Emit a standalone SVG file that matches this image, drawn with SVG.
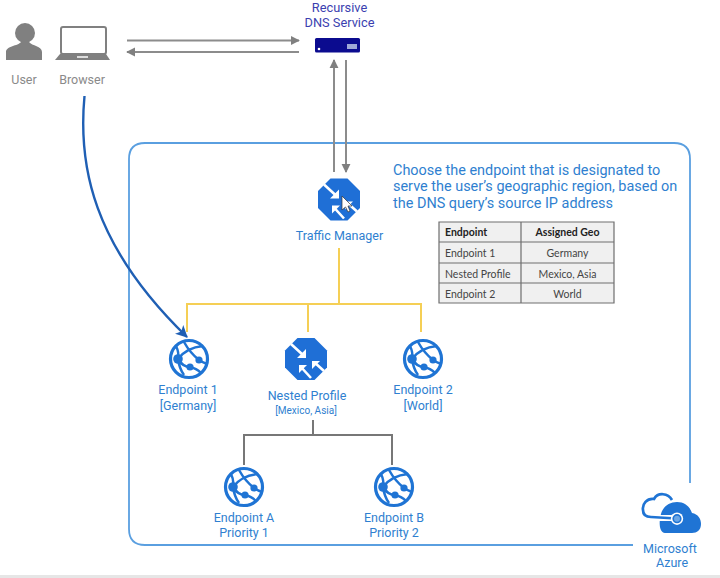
<svg xmlns="http://www.w3.org/2000/svg" xmlns:xlink="http://www.w3.org/1999/xlink" width="720" height="578" viewBox="0 0 720 578">
<style>
text{font-family:Roboto,"Liberation Sans",sans-serif}
.lbl{font-size:12.500px;fill:#2f7fd0;text-anchor:middle}
.gray{font-size:12.500px;fill:#8a8a8a;text-anchor:middle}
.dns{font-size:12.800px;fill:#3b3fb0;text-anchor:middle}
.note{font-size:14.450px;fill:#2f7fd0}
.cell{font-family:Lato,"Liberation Sans",sans-serif;font-size:10.500px;fill:#444}
.head{font-family:Lato,"Liberation Sans",sans-serif;font-size:10.500px;fill:#222;font-weight:700}
.g{fill:none;stroke:#8c8c8c;stroke-width:2}
.y{fill:none;stroke:#f5cf55;stroke-width:2}
.t{fill:none;stroke:#777;stroke-width:2}
.tbl{fill:none;stroke:#6e6e6e;stroke-width:1.2}
</style>
<defs>
<marker id="ga" viewBox="0 0 10 10" refX="9" refY="5" markerWidth="9" markerHeight="10" markerUnits="userSpaceOnUse" orient="auto"><path d="M0 0L10 5L0 10Z" fill="#808080"/></marker>
<marker id="ba" viewBox="0 0 12 12" refX="11" refY="6" markerWidth="12" markerHeight="12" markerUnits="userSpaceOnUse" orient="auto"><path d="M0 0L12 6L0 12L3 6Z" fill="#1f5fb4"/></marker>
<g id="globe">
<circle r="18.500" fill="#fff" stroke="#1f74d4" stroke-width="3.200"/>
<path d="M-5 -17C0 -8 5 -3 10 1C13 3 15 4 18 5M-11 0C-5 -8 3 -12 14 -13M-11 0C-8 5 -3 8 1 8C6 9 9 11 12 14M-11 0C-10 -5 -11 -9 -13 -13M-11 0C-10 7 -8 12 -5 16" fill="none" stroke="#1f74d4" stroke-width="2.500"/>
<circle cx="-11" cy="0" r="4.800" fill="#1f74d4"/>
<circle cx="10" cy="1" r="3.600" fill="#1f74d4"/>
<circle cx="1" cy="8" r="3.600" fill="#1f74d4"/>
</g>
<g id="octa">
<path d="M-8.500 -21L8.500 -21L21 -8.500L21 8.500L8.500 21L-8.500 21L-21 8.500L-21 -8.500Z" fill="#1f6fd6"/>
<path d="M-15 -15L-3 -4M18 12L8 3M5 19L-5 8" fill="none" stroke="#fff" stroke-width="2.600"/>
<path d="M0 -1L0 -10L-9 -1ZM6 2L14 2L6 10ZM-7 6L1 6L-7 14Z" fill="#fff"/>
</g>
</defs>
<rect width="720" height="578" fill="#fff"/>
<rect y="575" width="720" height="3" fill="#e6e6e6"/>
<g id="connectors">
<path d="M633 545H145Q129 545 129 529V159Q129 143 145 143H674Q690 143 690 159V483" fill="none" stroke="#5a9fe0" stroke-width="1.800"/>
<path class="g" d="M127 40.500H299" marker-end="url(#ga)"/>
<path class="g" d="M299 52H127" marker-end="url(#ga)"/>
<path class="g" d="M334 172V60" marker-end="url(#ga)"/>
<path class="g" d="M346 60V172" marker-end="url(#ga)"/>
<path class="y" d="M339 248V304M187 332V304H421V332M308 304V332"/>
<path class="t" d="M313 420V435M244 465V435H392V465"/>
<path d="M84.500 96C78 165 92 245 187 337" fill="none" stroke="#1f5fb4" stroke-width="2.400" marker-end="url(#ba)"/>
</g>
<g id="user"><circle cx="25" cy="33" r="10" fill="#808080"/><path d="M6 60V52C6 46 18 46 21 42H29C32 46 42 46 42 52V60Z" fill="#808080"/><text class="gray" x="24" y="84">User</text></g>
<g id="browser"><rect x="61" y="27" width="45" height="27" rx="2" fill="none" stroke="#808080" stroke-width="2"/><path d="M55 60L60 54H106L110 60Z" fill="#808080"/><rect x="77" y="56" width="11" height="2" fill="#ddd"/><text class="gray" x="82" y="84">Browser</text></g>
<g id="dns"><text class="dns" x="339.500" y="12">Recursive</text><text class="dns" x="339.500" y="27">DNS Service</text><rect x="315" y="38" width="45" height="14.500" rx="1.500" fill="#0b0b8f"/><circle cx="319" cy="49" r="1.300" fill="#fff"/><rect x="347" y="44" width="10" height="5" fill="#9fa8d8"/></g>
<g id="traffic-manager"><use xlink:href="#octa" href="#octa" x="339" y="199.500"/><path d="M342 196V210L345.500 207L348 212L350 211L348 206H352Z" fill="#fff" stroke="#333" stroke-width=".7"/><text class="lbl" x="339.500" y="240">Traffic Manager</text></g>
<g id="note"><text class="note" x="393" y="174.500">Choose the endpoint that is designated to</text><text class="note" x="393" y="191">serve the user’s geographic region, based on</text><text class="note" x="393" y="208">the DNS query’s source IP address</text></g>
<g id="table">
<rect x="439" y="222" width="175" height="81" fill="#f0f0f0"/>
<path class="tbl" d="M439 222H614V303H439ZM521 222V303M439 242H614M439 263H614M439 283H614"/>
<text class="head" x="445" y="236">Endpoint</text><text class="head" x="567.500" y="236" text-anchor="middle">Assigned Geo</text>
<text class="cell" x="445" y="257">Endpoint 1</text><text class="cell" x="567.500" y="257" text-anchor="middle">Germany</text>
<text class="cell" x="445" y="278">Nested Profile</text><text class="cell" x="567.500" y="278" text-anchor="middle">Mexico, Asia</text>
<text class="cell" x="445" y="298">Endpoint 2</text><text class="cell" x="567.500" y="298" text-anchor="middle">World</text>
</g>
<g id="endpoint-1"><use xlink:href="#globe" href="#globe" x="189" y="359"/><text class="lbl" x="188" y="394">Endpoint 1</text><text class="lbl" x="188" y="410">[Germany]</text></g>
<g id="nested-profile"><use xlink:href="#octa" href="#octa" x="306" y="359"/><text class="lbl" x="307" y="400">Nested Profile</text><text class="lbl" style="font-size:10px" x="306" y="414">[Mexico, Asia]</text></g>
<g id="endpoint-2"><use xlink:href="#globe" href="#globe" x="423" y="359"/><text class="lbl" x="423" y="394">Endpoint 2</text><text class="lbl" x="423" y="410">[World]</text></g>
<g id="endpoint-a"><use xlink:href="#globe" href="#globe" x="244" y="487"/><text class="lbl" x="244" y="522">Endpoint A</text><text class="lbl" x="244" y="537">Priority 1</text></g>
<g id="endpoint-b"><use xlink:href="#globe" href="#globe" x="394" y="487"/><text class="lbl" x="394" y="522">Endpoint B</text><text class="lbl" x="394" y="537">Priority 2</text></g>
<g id="azure">
<path d="M672 500C668 493 658 492 654 499C647 498 642 504 643 510C643 515 646 517 651 517" fill="none" stroke="#1f74d4" stroke-width="2.700"/>
<path d="M665 533C659 533 659 522 660.500 516C662 507 669 502 677 502C685 502 690 507 692 513C698 514 701 519 701 524C701 530 697 533 692 533Z" fill="#1f74d4"/>
<path d="M658 518H672" fill="none" stroke="#fff" stroke-width="6"/>
<path d="M651 517L676 518.500" fill="none" stroke="#1f74d4" stroke-width="2.600"/>
<circle cx="677" cy="518.700" r="6.200" fill="#fff"/>
<circle cx="677" cy="518.700" r="3.800" fill="#6aa6e6" stroke="#1f74d4" stroke-width="1.600"/>
<text class="lbl" x="670" y="553">Microsoft</text><text class="lbl" x="672" y="567">Azure</text>
</g>
</svg>
